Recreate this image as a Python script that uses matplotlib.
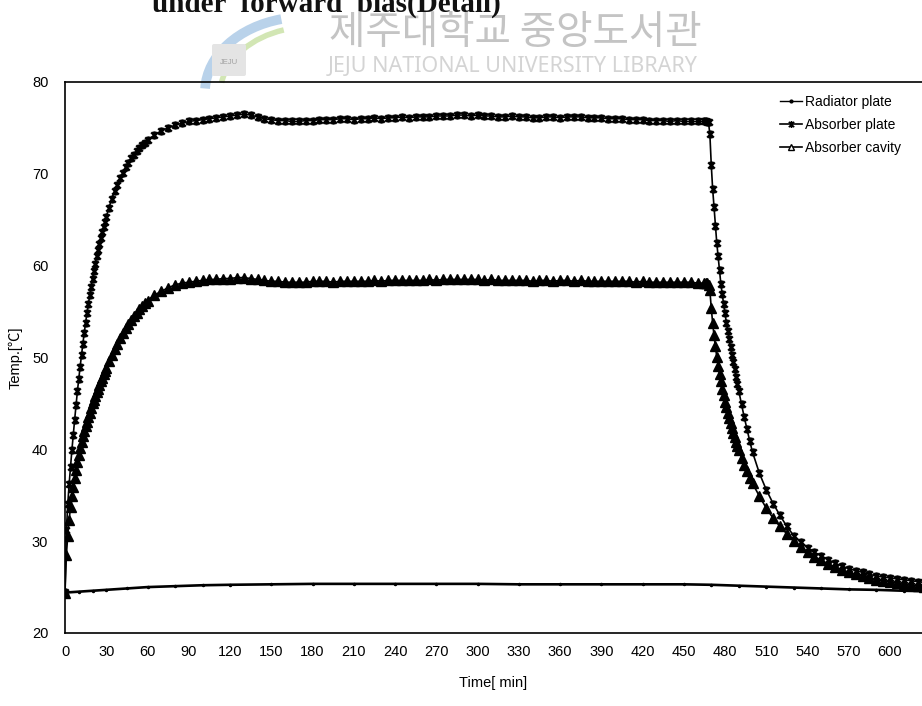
import numpy as np
import matplotlib.pyplot as plt
from matplotlib.path import Path
from matplotlib.patches import Arc, FancyBboxPatch

plt.rcParams['font.family'] = ['Liberation Sans', 'Noto Sans CJK KR', 'DejaVu Sans']

# sampling times [min]: fine during heat-up and the first part of cooling
t_rise = list(range(0, 31)) + list(range(32, 61, 2))
t_hold = list(range(65, 466, 5))
t_cool = list(range(466, 491)) + list(range(492, 501, 2)) + list(range(505, 626, 5))
time = np.array(t_rise + t_hold + t_cool)

absorber_plate = [
    # 0 - 60 min
    24.5, 31.2, 34.0, 36.2, 38.1, 39.9, 41.6, 43.2, 44.8, 46.3,
    47.7, 49.0, 50.3, 51.5, 52.7, 53.8, 54.9, 55.8, 56.8, 57.7,
    58.6, 59.4, 60.2, 61.0, 61.7, 62.4, 63.0, 63.7, 64.2, 64.8,
    65.3, 66.3, 67.3, 68.1, 68.8, 69.5, 70.1, 70.7, 71.2, 71.7,
    72.1, 72.5, 72.8, 73.1, 73.4, 73.7,
    # 65 - 465 min
    74.2, 74.7, 75.0, 75.3, 75.5, 75.7, 75.8, 75.9, 76.0, 76.1,
    76.2, 76.3, 76.4, 76.5, 76.4, 76.2, 76.0, 75.9, 75.8, 75.8,
    75.7, 75.7, 75.8, 75.8, 75.9, 75.9, 75.9, 76.0, 76.0, 75.9,
    76.0, 76.0, 76.1, 76.0, 76.1, 76.1, 76.2, 76.1, 76.2, 76.2,
    76.2, 76.3, 76.3, 76.3, 76.4, 76.4, 76.3, 76.4, 76.3, 76.3,
    76.2, 76.2, 76.3, 76.2, 76.2, 76.1, 76.1, 76.2, 76.2, 76.1,
    76.2, 76.2, 76.2, 76.1, 76.1, 76.1, 76.0, 76.0, 76.0, 75.9,
    75.9, 75.9, 75.8, 75.8, 75.8, 75.7, 75.8, 75.7, 75.7, 75.7,
    75.7,
    # 466 - 625 min
    75.7, 75.6, 75.6, 74.3, 71.0, 68.4, 66.4, 64.3, 62.5, 61.0,
    59.5, 58.0, 56.9, 55.8, 54.8, 53.8, 52.9, 52.0, 51.1, 50.3,
    49.5, 48.7, 47.9, 47.1, 46.4,
    44.9, 43.5, 42.2, 40.9, 39.7,
    37.4, 35.6, 34.1, 32.8, 31.6, 30.6, 29.9, 29.3, 28.8, 28.4,
    28.0, 27.6, 27.3, 27.0, 26.8, 26.6, 26.4, 26.2, 26.1, 26.0,
    25.9, 25.8, 25.7, 25.6, 25.5,
]

absorber_cavity = [
    # 0 - 60 min
    24.4, 28.5, 30.6, 32.3, 33.7, 34.9, 35.9, 36.9, 37.8, 38.6,
    39.4, 40.1, 40.8, 41.4, 42.0, 42.5, 43.0, 43.5, 44.0, 44.5,
    45.0, 45.4, 45.8, 46.2, 46.6, 47.0, 47.4, 47.8, 48.2, 48.5,
    48.9, 49.6, 50.3, 50.9, 51.5, 52.1, 52.7, 53.2, 53.7, 54.1,
    54.5, 54.9, 55.3, 55.6, 55.9, 56.2,
    # 65 - 465 min
    56.8, 57.2, 57.6, 57.9, 58.1, 58.2, 58.3, 58.4, 58.5, 58.5,
    58.6, 58.6, 58.7, 58.7, 58.6, 58.5, 58.4, 58.3, 58.3, 58.2,
    58.2, 58.2, 58.2, 58.3, 58.3, 58.3, 58.2, 58.3, 58.3, 58.3,
    58.3, 58.3, 58.4, 58.3, 58.4, 58.4, 58.4, 58.4, 58.4, 58.4,
    58.5, 58.4, 58.5, 58.5, 58.5, 58.5, 58.5, 58.5, 58.4, 58.5,
    58.4, 58.4, 58.4, 58.4, 58.4, 58.3, 58.4, 58.4, 58.3, 58.4,
    58.4, 58.3, 58.4, 58.3, 58.3, 58.3, 58.3, 58.3, 58.3, 58.3,
    58.2, 58.3, 58.2, 58.2, 58.2, 58.2, 58.2, 58.2, 58.2, 58.1,
    58.1,
    # 466 - 625 min
    58.1, 58.1, 57.9, 57.3, 55.4, 53.8, 52.4, 51.2, 50.1, 49.1,
    48.2, 47.4, 46.6, 45.9, 45.2, 44.6, 44.0, 43.4, 42.9, 42.3,
    41.8, 41.3, 40.8, 40.4, 39.9,
    39.1, 38.3, 37.6, 36.9, 36.3,
    34.9, 33.6, 32.5, 31.6, 30.8, 30.0, 29.4, 28.8, 28.3, 27.9,
    27.5, 27.2, 26.9, 26.6, 26.4, 26.2, 26.0, 25.8, 25.7, 25.6,
    25.4, 25.3, 25.2, 25.1, 25.0,
]

radiator_time = [0, 10, 20, 30, 45, 60, 80, 100, 120, 150, 180, 210, 240, 270,
                 300, 330, 360, 390, 420, 450, 470, 490, 510, 530, 550, 570,
                 590, 610, 625]
radiator_plate = [24.4, 24.5, 24.6, 24.7, 24.85, 25.0, 25.1, 25.2, 25.25, 25.3,
                  25.35, 25.35, 25.35, 25.35, 25.35, 25.3, 25.3, 25.3, 25.3,
                  25.3, 25.25, 25.15, 25.05, 24.95, 24.85, 24.75, 24.7, 24.6,
                  24.55]

x_ticks = list(range(0, 601, 30))
y_ticks = list(range(20, 81, 10))

# star marker: an x crossed by a vertical bar
star = Path([(-1, -1), (1, 1), (-1, 1), (1, -1), (0, -1.3), (0, 1.3)],
            [Path.MOVETO, Path.LINETO, Path.MOVETO, Path.LINETO,
             Path.MOVETO, Path.LINETO])

W, H = 922, 706
fig = plt.figure(figsize=(W / 100, H / 100), dpi=100)

# library watermark and clipped caption along the top edge
wm = fig.add_axes([0, 0, 1, 1], zorder=-1)
wm.set_xlim(0, W)
wm.set_ylim(H, 0)
wm.axis('off')
wm.add_patch(Arc((305, 92), 200, 150, theta1=182, theta2=252,
                 color='#b9d2ea', lw=7))
wm.add_patch(Arc((310, 95), 180, 136, theta1=188, theta2=248,
                 color='#d2e6b4', lw=4))
wm.add_patch(FancyBboxPatch((214, 46), 30, 28, boxstyle='round,pad=2',
                            fc='#e4e4e4', ec='none'))
wm.text(229, 63, 'JEJU', ha='center', va='center', fontsize=5.5,
        color='#a0a0a0', family=['Liberation Sans'])
wm.text(515, 33, '제주대학교 중앙도서관', ha='center', va='center',
        fontsize=28.5, color='#c4c4c4', family=['Noto Sans CJK KR'])
wm.text(513, 67, 'JEJU NATIONAL UNIVERSITY LIBRARY', ha='center',
        va='center', fontsize=15.5, color='#d4d4d4', family=['Noto Sans'])
fig.text(152 / W, 1 - 12 / H, 'under  forward  bias(Detail)', ha='left',
         va='baseline', fontsize=21, fontweight='bold',
         family=['Liberation Serif'], color='#111111')

ax = fig.add_axes([65 / W, 1 - 633 / H, (W - 65) / W, 551 / H])
ax.patch.set_alpha(0)

ax.plot(radiator_time, radiator_plate, color='black', lw=1.9, marker='.',
        ms=3, label='Radiator plate')
ax.plot(time, absorber_plate, color='black', lw=1.2, marker=star, ms=6,
        mew=1.8, label='Absorber plate')
ax.plot(time, absorber_cavity, color='black', lw=1.2, marker='^', ms=6.5,
        mfc='black', mec='black', label='Absorber cavity')

ax.set_xlim(0, (W - 65) / 1.375)
ax.set_ylim(20, 80)
ax.set_xticks(x_ticks)
ax.set_yticks(y_ticks)
ax.tick_params(length=0, labelsize=10.5)
ax.tick_params(axis='x', pad=9)
ax.tick_params(axis='y', pad=12)
for side in ('left', 'bottom', 'top'):
    ax.spines[side].set_linewidth(1.2)
ax.spines['right'].set_visible(False)

ax.set_xlabel('Time[ min]', fontsize=10.5, labelpad=12)
ax.set_ylabel('Temp.[℃]', fontsize=10.5)
ax.yaxis.set_label_coords(-0.050, 0.5)

leg = ax.legend(loc='upper left', bbox_to_anchor=(780 / W, 1 - 95 / H),
                bbox_transform=fig.transFigure, frameon=False, fontsize=10,
                handlelength=1.6, handletextpad=0.2, labelspacing=0.65,
                borderpad=0, borderaxespad=0, numpoints=1)
handles = leg.get_lines()
handles[0].set_linewidth(1.0)
handles[0].set_markersize(4)
handles[1].set_markersize(5)
handles[1].set_markeredgewidth(1.2)
handles[2].set_markersize(5)
handles[2].set_markerfacecolor('white')

fig.savefig('out.png', dpi=100)
